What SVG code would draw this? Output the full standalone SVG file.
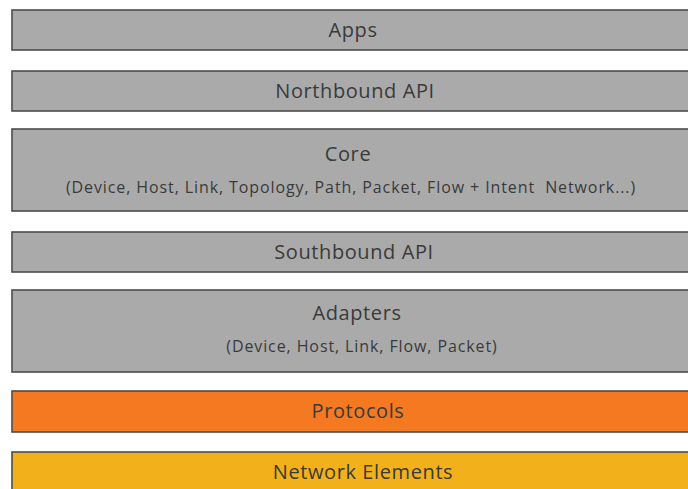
<svg xmlns="http://www.w3.org/2000/svg" width="688" height="489" viewBox="0 0 688 489">
  <style>
    .layer { stroke: #4d4d4d; stroke-width: 1.6; }
    .gray { fill: #aaaaaa; }
    .orange { fill: #f47920; }
    .yellow { fill: #f2b11b; }
    .title { font-family: "Open Sans", "Noto Sans", sans-serif; font-size: 20px; fill: #3a3a3a; text-anchor: middle; letter-spacing: 0.6px; }
    .sub { font-family: "Open Sans", "Noto Sans", sans-serif; font-size: 16px; fill: #3a3a3a; text-anchor: middle; letter-spacing: 0.9px; }
  </style>
  <rect width="688" height="489" fill="#ffffff"/>

  <g id="apps">
    <rect class="layer gray" x="12" y="10" width="690" height="40"/>
    <text class="title" x="353" y="37">Apps</text>
  </g>

  <g id="northbound-api">
    <rect class="layer gray" x="12" y="71" width="690" height="40"/>
    <text class="title" x="355" y="98">Northbound API</text>
  </g>

  <g id="core">
    <rect class="layer gray" x="12" y="129" width="690" height="82"/>
    <text class="title" x="348" y="161">Core</text>
    <text class="sub" x="351" y="193" xml:space="preserve">(Device, Host, Link, Topology, Path, Packet, Flow + Intent  Network...)</text>
  </g>

  <g id="southbound-api">
    <rect class="layer gray" x="12" y="232" width="690" height="40"/>
    <text class="title" x="354" y="259">Southbound API</text>
  </g>

  <g id="adapters">
    <rect class="layer gray" x="12" y="290" width="690" height="82"/>
    <text class="title" x="357" y="320">Adapters</text>
    <text class="sub" x="362" y="352">(Device, Host, Link, Flow, Packet)</text>
  </g>

  <g id="protocols">
    <rect class="layer orange" x="12" y="391" width="690" height="41"/>
    <text class="title" x="358" y="418">Protocols</text>
  </g>

  <g id="network-elements">
    <rect class="layer yellow" x="12" y="452" width="690" height="50"/>
    <text class="title" x="363" y="479">Network Elements</text>
  </g>

  <g id="connectors"/>
</svg>
